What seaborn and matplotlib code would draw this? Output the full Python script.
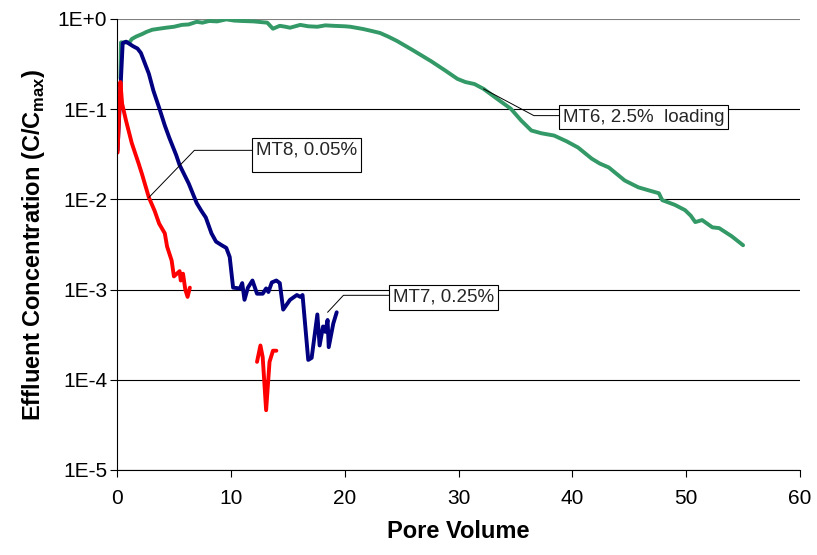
import matplotlib
matplotlib.use("Agg")
import matplotlib.pyplot as plt
from matplotlib.ticker import NullLocator
import pandas as pd
import seaborn as sns

# Breakthrough curves: pore volume vs. normalised effluent concentration
mt6_pv = [0.3, 0.35, 1.1, 1.3, 1.7, 2.2, 2.6, 3.1, 3.7, 4.3, 5.0, 5.7, 6.3, 7.0, 7.5,
          8.1, 8.8, 9.6, 10.3, 11.0, 12.0, 13.2, 13.7, 14.3, 14.8, 15.2, 16.1, 16.8,
          17.6, 18.3, 19.0, 20.0, 20.5, 21.6, 22.3, 23.1, 23.8, 24.6, 26.0, 27.6,
          28.8, 29.9, 30.6, 31.4, 32.2, 33.4, 34.6, 35.5, 36.4, 37.3, 38.4, 39.5,
          40.5, 41.7, 42.4, 43.2, 44.6, 45.8, 46.7, 47.6, 47.9, 49.0, 49.9, 50.4,
          50.8, 51.4, 52.3, 52.9, 54.0, 55.0]
mt6_c = [0.22, 0.55, 0.55, 0.60, 0.64, 0.68, 0.72, 0.76, 0.78, 0.80, 0.82, 0.86, 0.87,
         0.93, 0.91, 0.95, 0.94, 0.99, 0.96, 0.95, 0.94, 0.91, 0.78, 0.84, 0.82, 0.80,
         0.86, 0.83, 0.82, 0.85, 0.84, 0.83, 0.82, 0.775, 0.74, 0.70, 0.64, 0.57, 0.45,
         0.34, 0.27, 0.217, 0.20, 0.19, 0.168, 0.13, 0.101, 0.075, 0.058, 0.054, 0.051,
         0.044, 0.0376, 0.0283, 0.025, 0.0226, 0.0162, 0.0136, 0.0126, 0.0117, 0.0098,
         0.0087, 0.0076, 0.0066, 0.0056, 0.0059, 0.0049, 0.0048, 0.0039, 0.0031]

mt7_pv = [0.05, 0.25, 0.5, 0.8, 1.4, 1.8, 2.1, 2.5, 2.8, 3.2, 3.7, 4.2, 4.6, 5.2, 5.5,
          6.3, 7.0, 7.4, 7.8, 8.3, 8.7, 9.2, 9.6, 9.9, 10.2, 10.8, 11.0, 11.2, 11.5,
          11.9, 12.3, 12.8, 13.1, 13.3, 13.6, 14.0, 14.3, 14.6, 15.2, 15.8, 16.1, 16.3,
          16.8, 17.1, 17.6, 17.8, 18.1, 18.3, 18.5, 18.6, 19.0, 19.3]
mt7_c = [0.035, 0.12, 0.54, 0.56, 0.50, 0.47, 0.42, 0.31, 0.247, 0.16, 0.104, 0.066,
         0.048, 0.031, 0.024, 0.015, 0.0091, 0.0075, 0.0063, 0.0042, 0.0034, 0.0031,
         0.0029, 0.0023, 0.00105, 0.00103, 0.00118, 0.00077, 0.00105, 0.00126, 0.00090,
         0.00090, 0.00103, 0.00094, 0.00120, 0.00126, 0.00118, 0.00060, 0.00077,
         0.00087, 0.00083, 0.00087, 0.000166, 0.000175, 0.00053, 0.00024, 0.00039,
         0.00034, 0.00046, 0.00023, 0.00042, 0.00056]

mt8_pv = [0.05, 0.3, 0.45, 0.8, 1.3, 1.9, 2.2, 2.8, 3.3, 3.7, 4.2, 4.4, 4.8, 5.0, 5.5,
          5.6, 5.8, 6.0, 6.2, 6.4]
mt8_c = [0.033, 0.2, 0.115, 0.074, 0.042, 0.025, 0.019, 0.0105, 0.0075, 0.0054, 0.0042,
         0.003, 0.0021, 0.0014, 0.0016, 0.00126, 0.0015, 0.001, 0.00083, 0.00105]
mt8_late_pv = [12.3, 12.6, 12.8, 13.1, 13.4, 13.7, 14.0]
mt8_late_c = [0.000158, 0.00024, 0.000178, 0.000046, 0.000158, 0.00021, 0.00021]

y_ticks = [1e-5, 1e-4, 1e-3, 1e-2, 1e-1, 1e0]
y_tick_labels = ["1E-5", "1E-4", "1E-3", "1E-2", "1E-1", "1E+0"]
x_ticks = [0, 10, 20, 30, 40, 50, 60]

colors = {"MT6": "#339966", "MT7": "#000080", "MT8": "#FF0000"}

frames = [
    pd.DataFrame({"pv": mt6_pv, "c": mt6_c, "run": "MT6", "seg": 0}),
    pd.DataFrame({"pv": mt7_pv, "c": mt7_c, "run": "MT7", "seg": 0}),
    pd.DataFrame({"pv": mt8_pv, "c": mt8_c, "run": "MT8", "seg": 0}),
    pd.DataFrame({"pv": mt8_late_pv, "c": mt8_late_c, "run": "MT8", "seg": 1}),
]
df = pd.concat(frames, ignore_index=True)

sns.set_theme(style="white")
plt.rcParams["font.family"] = ["Liberation Sans", "DejaVu Sans"]
plt.rcParams["mathtext.fontset"] = "custom"
plt.rcParams["mathtext.rm"] = "Liberation Sans"
plt.rcParams["mathtext.bf"] = "Liberation Sans:bold"

fig = plt.figure(figsize=(8.17, 5.55), dpi=100)
ax = fig.add_axes([0.1432, 0.1532, 0.9792 - 0.1432, 0.9658 - 0.1532])
ax.set_yscale("log")

sns.lineplot(data=df, x="pv", y="c", hue="run", units="seg", estimator=None,
             sort=False, palette=colors, linewidth=2.8, legend=False, ax=ax)

ax.set_xlim(0, 60)
ax.set_ylim(1e-5, 1)
ax.set_xticks(x_ticks)
ax.set_yticks(y_ticks)
ax.set_yticklabels(y_tick_labels)
ax.yaxis.set_minor_locator(NullLocator())
ax.xaxis.set_minor_locator(NullLocator())

ax.yaxis.grid(True, color="black", linewidth=0.8)
ax.xaxis.grid(False)
# the topmost gridline reads as a lighter plot-area border
ax.get_ygridlines()[-1].set_color("#808080")
for side in ("top", "right"):
    ax.spines[side].set_visible(False)
for side in ("left", "bottom"):
    ax.spines[side].set_color("black")
    ax.spines[side].set_linewidth(0.8)

ax.tick_params(axis="y", left=True, direction="out", length=5, width=0.8,
               pad=2, labelsize=15, color="black", labelcolor="black")
ax.tick_params(axis="x", bottom=True, direction="out", length=5, width=0.8,
               pad=9, labelsize=15, color="black", labelcolor="black")

ax.set_xlabel("Pore Volume", fontsize=17, fontweight="bold", color="black", labelpad=8)
ax.set_ylabel(r"Effluent Concentration (C/C$_{\mathbf{max}}$)", fontsize=17,
              fontweight="bold", color="black", labelpad=8)

box = dict(boxstyle="square,pad=0.2", fc="white", ec="black", lw=0.8)


def leader(relpos_y, angle):
    return dict(arrowstyle="-", color="black", lw=0.7, shrinkA=0, shrinkB=0,
                relpos=(0, relpos_y),
                connectionstyle=f"angle,angleA=0,angleB={angle},rad=0")


ax.annotate("MT8, 0.05%\n", xy=(mt8_pv[7], mt8_c[7]), xytext=(12.2, 0.031),
            ha="left", va="center", fontsize=13.5, linespacing=0.4,
            bbox=box, arrowprops=leader(0.68, 46))
ax.annotate("MT7, 0.25%", xy=(18.5, 0.00056), xytext=(24.25, 0.00082),
            ha="left", va="center", fontsize=13.5,
            bbox=box, arrowprops=leader(0.62, 47))
ax.annotate("MT6, 2.5%  loading", xy=(mt6_pv[44], mt6_c[44]), xytext=(39.2, 0.0816),
            ha="left", va="center", fontsize=13.5,
            bbox=box, arrowprops=leader(0.59, -28))

fig.savefig("out.png", dpi=100)
